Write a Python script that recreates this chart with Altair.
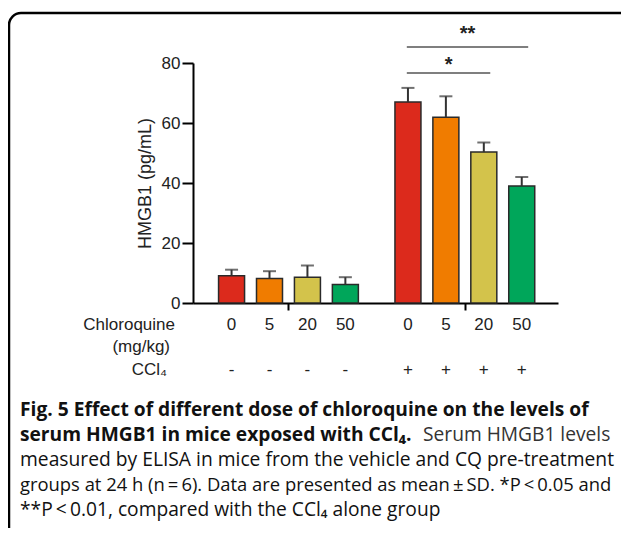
import altair as alt
import pandas as pd

# ---------------- data ----------------
doses = ["0", "5", "20", "50"]
ccl4_marks = ["-", "+"]
mean_vehicle = [9.1, 8.2, 8.6, 6.2]
sd_vehicle = [2.0, 2.4, 3.9, 2.4]
mean_ccl4 = [67.0, 61.9, 50.3, 39.0]
sd_ccl4 = [4.7, 7.0, 3.2, 3.0]
bar_colors = ["#dc2a1c", "#f07c00", "#d3c34b", "#00a65a"]

sig_from = [0, 0]
sig_to = [2, 3]
sig_line_y = [76.7, 85.3]
sig_text_y = [79.4, 89.6]
sig_labels = ["*", "**"]

caption_lines = [
    ("Fig. 5 Effect of different dose of chloroquine on the levels of", "bold"),
    ("serum HMGB1 in mice exposed with CCl\u2084.", "bold"),
    ("measured by ELISA in mice from the vehicle and CQ pre-treatment", "normal"),
    ("groups at 24 h (n\u2009=\u20096). Data are presented as mean\u2009\u00b1\u2009SD. *P\u2009<\u20090.05 and", "normal"),
    ("**P\u2009<\u20090.01, compared with the CCl\u2084 alone group", "normal"),
]
caption_sizes = [19.2, 19.2, 19.25, 18.4, 19.2]
caption_line2_tail = "Serum HMGB1 levels"

# ---------------- layout helpers ----------------
GROUP_STEP = 4.65
W, H = 365, 240
FONT = "Liberation Sans"
CAP_FONT = "Open Sans"
CAP_Y0 = 353
CAP_DY = 25
TICK_FS = 17
TITLE_FS = 18

rows = []
for gi, (means, sds) in enumerate([(mean_vehicle, sd_vehicle), (mean_ccl4, sd_ccl4)]):
    for di, d in enumerate(doses):
        rows.append({
            "pos": gi * GROUP_STEP + di,
            "mean": means[di],
            "top": means[di] + sds[di],
            "dose": d,
            "ccl4": ccl4_marks[gi],
            "color": bar_colors[di],
        })
df = pd.DataFrame(rows)

sig = pd.DataFrame({
    "x1": [GROUP_STEP + f - 0.03 for f in sig_from],
    "x2": [GROUP_STEP + t + 0.17 for t in sig_to],
    "y": sig_line_y,
    "ty": sig_text_y,
    "label": sig_labels,
})
sig["xm"] = (sig["x1"] + sig["x2"]) / 2

xs = alt.Scale(domain=[-0.885, 8.474], nice=False, zero=False)
ys = alt.Scale(domain=[0, 80], nice=False)

x_axis = alt.Axis(
    values=[1.5, GROUP_STEP + 1.5], labels=False, title=None, grid=False,
    domainColor="black", domainWidth=2, tickColor="black", tickWidth=2, tickSize=7)
y_axis = alt.Axis(
    values=[0, 20, 40, 60, 80], title="HMGB1 (pg/mL)", grid=False,
    domainColor="black", domainWidth=2, tickColor="black", tickWidth=2, tickSize=11,
    labelFont=FONT, labelFontSize=TICK_FS, labelColor="#222", labelPadding=2,
    titleFont=FONT, titleFontSize=TITLE_FS, titleFontWeight="normal", titleColor="#222",
    titlePadding=7)


def X(field):
    return alt.X(field, scale=xs, axis=x_axis)


def Y(field):
    return alt.Y(field, scale=ys, axis=y_axis)


base = alt.Chart(df)

bars = base.mark_bar(size=26, stroke="#2a2a2a", strokeWidth=1.5).encode(
    x=X("pos:Q"),
    y=Y("mean:Q"),
    y2=alt.datum(0),
    fill=alt.Color("color:N", scale=None),
)

err = base.mark_rule(color="#333", strokeWidth=2).encode(
    x=X("pos:Q"), y=Y("mean:Q"), y2="top:Q",
)
caps = base.mark_tick(color="#333", thickness=2, size=13, orient="horizontal").encode(
    x=X("pos:Q"), y=Y("top:Q"),
)

dose_txt = base.mark_text(font=FONT, fontSize=17, color="#222", baseline="middle").encode(
    x=X("pos:Q"), y=alt.value(262), text="dose:N")
ccl_txt = base.mark_text(font=FONT, fontSize=17, color="#222", baseline="middle").encode(
    x=X("pos:Q"), y=alt.value(307), text="ccl4:N")

sig_base = alt.Chart(sig)
sig_lines = sig_base.mark_rule(color="#555", strokeWidth=1.5).encode(
    x=X("x1:Q"), x2="x2:Q", y=Y("y:Q"),
)
sig_txt = sig_base.mark_text(font=FONT, fontSize=20, fontWeight="bold", color="#222",
                             baseline="middle").encode(
    x=X("xm:Q"), y=Y("ty:Q"), text="label:N",
)

one = alt.Chart(pd.DataFrame({"a": [0]}))
row_labels = []
for txt, xv, yv in [("Chloroquine", -18, 262), ("(mg/kg)", -23, 284), ("CCl\u2084", -26, 307)]:
    row_labels.append(one.mark_text(font=FONT, fontSize=17, color="#222", align="right",
                                    baseline="middle", text=txt).encode(
        x=alt.value(xv), y=alt.value(yv)))

cap_layers = []
for i, (txt, wt) in enumerate(caption_lines):
    cap_layers.append(one.mark_text(font=CAP_FONT, fontSize=caption_sizes[i], fontWeight=wt,
                                    color="#111", align="left", baseline="alphabetic",
                                    text=txt).encode(
        x=alt.value(-173), y=alt.value(CAP_Y0 + i * CAP_DY)))
cap_layers.append(one.mark_text(font=CAP_FONT, fontSize=19.2, fontWeight="normal", color="#333",
                                align="left", baseline="alphabetic",
                                text=caption_line2_tail).encode(
    x=alt.value(230), y=alt.value(CAP_Y0 + CAP_DY)))

border = one.mark_rect(fillOpacity=0, stroke="black", strokeWidth=2.5, cornerRadius=12).encode(
    x=alt.value(-184), x2=alt.value(460), y=alt.value(-50), y2=alt.value(480))

chart = alt.layer(
    bars, err, caps, sig_lines, sig_txt, dose_txt, ccl_txt, *row_labels, *cap_layers, border
).properties(
    width=W, height=H,
    autosize=alt.AutoSizeParams(type="none"),
    padding={"left": 185, "top": 55, "right": 63, "bottom": 225},
).configure_view(stroke=None).configure_axis(
    labelFont=FONT, labelFontSize=TICK_FS, labelColor="#222",
    titleFont=FONT, titleFontSize=TITLE_FS, titleFontWeight="normal", titleColor="#222",
)

chart.save("out.html", embed_options={"renderer": "svg", "actions": False})
